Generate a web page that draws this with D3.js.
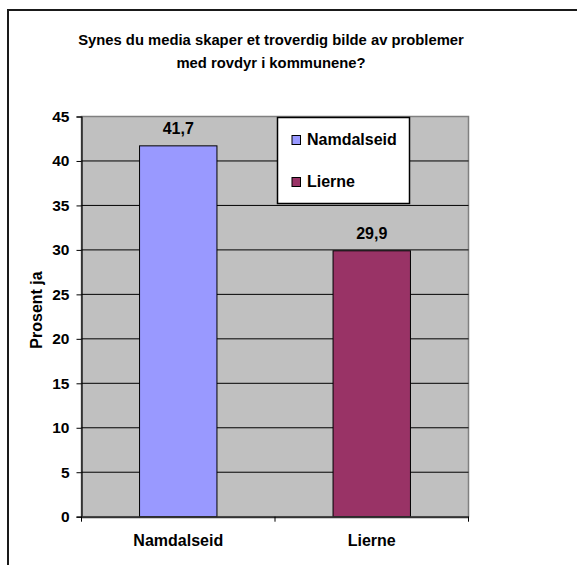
<!DOCTYPE html>
<html><head><meta charset="utf-8">
<script src="https://cdn.jsdelivr.net/npm/d3@7/dist/d3.min.js"></script>
<style>body{margin:0;background:#fff}svg{display:block}text{font-family:"Liberation Sans",Arial,sans-serif;font-weight:bold;fill:#000}</style>
</head><body><svg id="c" width="577" height="565"></svg>
<script>
const categories = ["Namdalseid", "Lierne"];
const values = [41.7, 29.9];
const valueLabels = ["41,7", "29,9"];
const colors = ["#9999FF", "#993366"];
const yTicks = [0, 5, 10, 15, 20, 25, 30, 35, 40, 45];
const titleLines = ["Synes du media skaper et troverdig bilde av problemer", "med rovdyr i kommunene?"];
const yTitle = "Prosent ja";

const svg = d3.select("#c");
const L = 81.5, R = 468.5, T = 116.5, B = 516.7;

svg.append("rect").attr("x", 8).attr("y", 10).attr("width", 600).attr("height", 600)
  .attr("fill", "#fff").attr("stroke", "#1a1a1a").attr("stroke-width", 2);

const x = d3.scaleBand().domain(categories).range([L, R]).paddingInner(0.6).paddingOuter(0.3);
const xb = d3.scaleBand().domain(categories).range([L, R]);
const y = d3.scaleLinear().domain([0, 45]).range([B, T]);

svg.append("rect").attr("x", L).attr("y", T).attr("width", R - L).attr("height", B - T)
  .attr("fill", "#C0C0C0").attr("stroke", "#808080").attr("stroke-width", 1.5);

svg.append("g").selectAll("line").data(yTicks.filter(d => d > 0 && d < 45)).join("line")
  .attr("x1", L).attr("x2", R).attr("y1", d => y(d)).attr("y2", d => y(d))
  .attr("stroke", "#000").attr("stroke-width", 1);

svg.append("g").selectAll("rect").data(values).join("rect")
  .attr("x", (d, i) => x(categories[i])).attr("width", x.bandwidth())
  .attr("y", d => y(d)).attr("height", d => y(0) - y(d))
  .attr("fill", (d, i) => colors[i]).attr("stroke", "#000").attr("stroke-width", 1);

// y axis
const ya = svg.append("g").attr("transform", `translate(${L},0)`)
  .call(d3.axisLeft(y).tickValues(yTicks).tickSize(5).tickPadding(7).tickFormat(d3.format("d")));
ya.select(".domain").attr("stroke", "#000").attr("stroke-width", 1.2);
ya.selectAll(".tick line").attr("stroke", "#000");
ya.selectAll("text").style("font-size", "15.5px").attr("font-family", null);

// x axis
const xa = svg.append("g").attr("transform", `translate(0,${B})`)
  .call(d3.axisBottom(xb).tickSize(0).tickPadding(18));
xa.select(".domain").attr("stroke", "#333").attr("stroke-width", 2);
xa.selectAll("text").style("font-size", "16px").attr("font-family", null);
svg.append("g").selectAll("line").data([L, (L + R) / 2, R]).join("line")
  .attr("x1", d => d).attr("x2", d => d).attr("y1", B).attr("y2", B + 5).attr("stroke", "#000");

// value labels
svg.append("g").selectAll("text").data(values).join("text")
  .attr("x", (d, i) => x(categories[i]) + x.bandwidth() / 2).attr("y", d => y(d) - 12)
  .attr("text-anchor", "middle").style("font-size", "16px").text((d, i) => valueLabels[i]);

// title
svg.append("g").selectAll("text").data(titleLines).join("text")
  .attr("x", 271).attr("y", (d, i) => 45 + i * 23).attr("text-anchor", "middle")
  .style("font-size", "14.8px").text(d => d);

svg.append("text").attr("transform", "translate(42,310) rotate(-90)")
  .attr("text-anchor", "middle").style("font-size", "16px").text(yTitle);

// legend
const lg = svg.append("g");
lg.append("rect").attr("x", 277.5).attr("y", 117.5).attr("width", 132).attr("height", 86)
  .attr("fill", "#fff").attr("stroke", "#000").attr("stroke-width", 1.5);
const li = lg.selectAll("g").data(categories).join("g")
  .attr("transform", (d, i) => `translate(292,${135.5 + i * 42})`);
li.append("rect").attr("width", 8.5).attr("height", 9).attr("fill", (d, i) => colors[i]).attr("stroke", "#000").attr("stroke-width", 1);
li.append("text").attr("x", 15).attr("y", 9.5).style("font-size", "16px").text(d => d);
</script></body></html>
